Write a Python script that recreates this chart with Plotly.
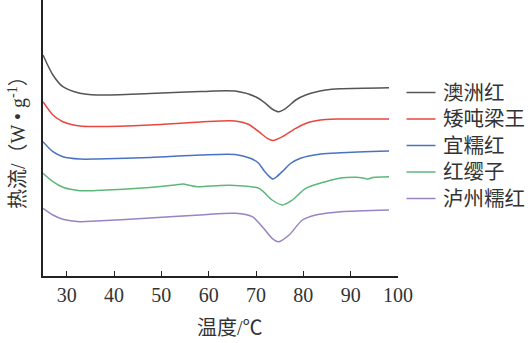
import plotly.graph_objects as go

# Temperature (°C) and heat flow (arbitrary offset units)
names = ["澳洲红", "矮吨梁王", "宜糯红", "红缨子", "泸州糯红"]
colors = ["#555555", "#e8473f", "#4a72c2", "#5cb878", "#9a82c4"]

t_aozhou = [25.0, 27.1, 29.2, 32.8, 36.3, 47.6, 58.2, 65.6, 69.9, 72.0, 73.4, 74.8, 76.3, 78.4, 80.5, 84.7, 87.9, 98.1]
hf_aozhou = [22.1, 20.1, 18.93, 18.27, 18.1, 18.25, 18.45, 18.5, 17.93, 17.27, 16.7, 16.43, 16.77, 17.6, 18.1, 18.6, 18.73, 18.83]

t_aidun = [25.0, 27.1, 29.2, 32.8, 36.3, 47.6, 58.2, 65.6, 68.4, 70.6, 72.4, 73.6, 75.6, 78.4, 81.2, 84.7, 87.9, 98.1]
hf_aidun = [17.43, 16.1, 15.43, 15.0, 14.95, 15.1, 15.4, 15.5, 15.17, 14.43, 13.77, 13.55, 13.93, 14.77, 15.37, 15.65, 15.7, 15.7]

t_yinuo = [25.0, 27.1, 29.2, 32.8, 36.3, 47.6, 58.2, 65.6, 68.8, 70.5, 71.6, 72.6, 73.6, 74.3, 75.9, 77.3, 79.4, 83.7, 87.9, 98.1]
hf_yinuo = [13.43, 12.43, 11.93, 11.7, 11.7, 11.85, 12.1, 12.15, 11.77, 11.3, 10.6, 10.05, 9.7, 9.9, 10.6, 11.25, 11.77, 12.2, 12.33, 12.5]

t_hongying = [25.0, 27.1, 29.2, 32.8, 36.3, 47.6, 52.9, 54.6, 56.1, 57.6, 62.5, 65.6, 70.6, 73.4, 75.6, 77.7, 80.5, 84.7, 87.9, 91.1, 92.6, 93.7, 94.7, 98.1]
hf_hongying = [10.27, 9.43, 8.87, 8.53, 8.55, 8.85, 9.1, 9.2, 9.05, 8.93, 9.05, 9.05, 8.77, 7.6, 7.1, 7.6, 8.77, 9.43, 9.8, 9.87, 9.8, 9.7, 9.85, 9.93]

t_luzhou = [25.0, 27.1, 29.2, 32.8, 36.3, 47.6, 58.2, 65.6, 69.2, 71.6, 73.4, 74.8, 77.0, 79.8, 82.6, 84.7, 87.9, 98.1]
hf_luzhou = [6.77, 6.1, 5.67, 5.43, 5.5, 5.8, 6.1, 6.27, 5.93, 4.77, 3.77, 3.43, 4.1, 5.6, 6.1, 6.27, 6.43, 6.6]

x_ticks = [30, 40, 50, 60, 70, 80, 90, 100]

series = [
    (t_aozhou, hf_aozhou),
    (t_aidun, hf_aidun),
    (t_yinuo, hf_yinuo),
    (t_hongying, hf_hongying),
    (t_luzhou, hf_luzhou),
]

W, H = 530, 343
ML, MR, MT, MB = 43, 132, 0, 67
PW, PH = W - ML - MR, H - MT - MB


def px_to_paper_x(px):
    return (px - ML) / PW


def px_to_paper_y(py):
    return (H - MB - py) / PH


fig = go.Figure()
for (tx, hy), name, col in zip(series, names, colors):
    fig.add_trace(go.Scatter(
        x=tx, y=hy, mode="lines", name=name, showlegend=False,
        line=dict(color=col, width=1.5, shape="spline", smoothing=0.8),
    ))

serif = "Liberation Serif"
mixed = "Liberation Serif, Noto Sans CJK SC"

# manual legend: sample line + label for each series
legend_rows = [92.5, 119, 145.5, 172, 198.5]
shapes = []
annotations = []
for name, col, ry in zip(names, colors, legend_rows):
    shapes.append(dict(type="line", xref="paper", yref="paper",
                       x0=px_to_paper_x(406.5), x1=px_to_paper_x(435.5),
                       y0=px_to_paper_y(ry), y1=px_to_paper_y(ry),
                       line=dict(color=col, width=1.5)))
    annotations.append(dict(text=name, xref="paper", yref="paper",
                            x=px_to_paper_x(441), y=px_to_paper_y(ry),
                            xanchor="left", yanchor="middle", showarrow=False,
                            font=dict(family=mixed, size=20.5, color="#333333")))

annotations += [
    dict(text="温度/℃", xref="paper", yref="paper",
         x=px_to_paper_x(230), y=px_to_paper_y(328),
         xanchor="center", yanchor="middle", showarrow=False,
         font=dict(family=mixed, size=20, color="#333333")),
    dict(text="热流/（W • g<sup>-1</sup>）", xref="paper", yref="paper",
         x=px_to_paper_x(17), y=px_to_paper_y(138), textangle=-90,
         xanchor="center", yanchor="middle", showarrow=False,
         font=dict(family=mixed, size=20, color="#333333")),
]

fig.update_layout(
    width=W, height=H,
    margin=dict(l=ML, r=MR, t=MT, b=MB),
    paper_bgcolor="white", plot_bgcolor="white",
    showlegend=False,
    xaxis=dict(
        range=[25, 100], tickvals=x_ticks, ticks="inside", ticklen=5,
        tickwidth=1.2, tickcolor="#222222",
        showline=True, linecolor="#222222", linewidth=1.5,
        showgrid=False, zeroline=False,
        tickfont=dict(family=serif, size=20, color="#333333"),
    ),
    yaxis=dict(
        range=[0, 27.6], showticklabels=False, ticks="",
        showline=True, linecolor="#222222", linewidth=1.5,
        showgrid=False, zeroline=False,
    ),
    shapes=shapes,
    annotations=annotations,
)

fig.write_html("out.html")
